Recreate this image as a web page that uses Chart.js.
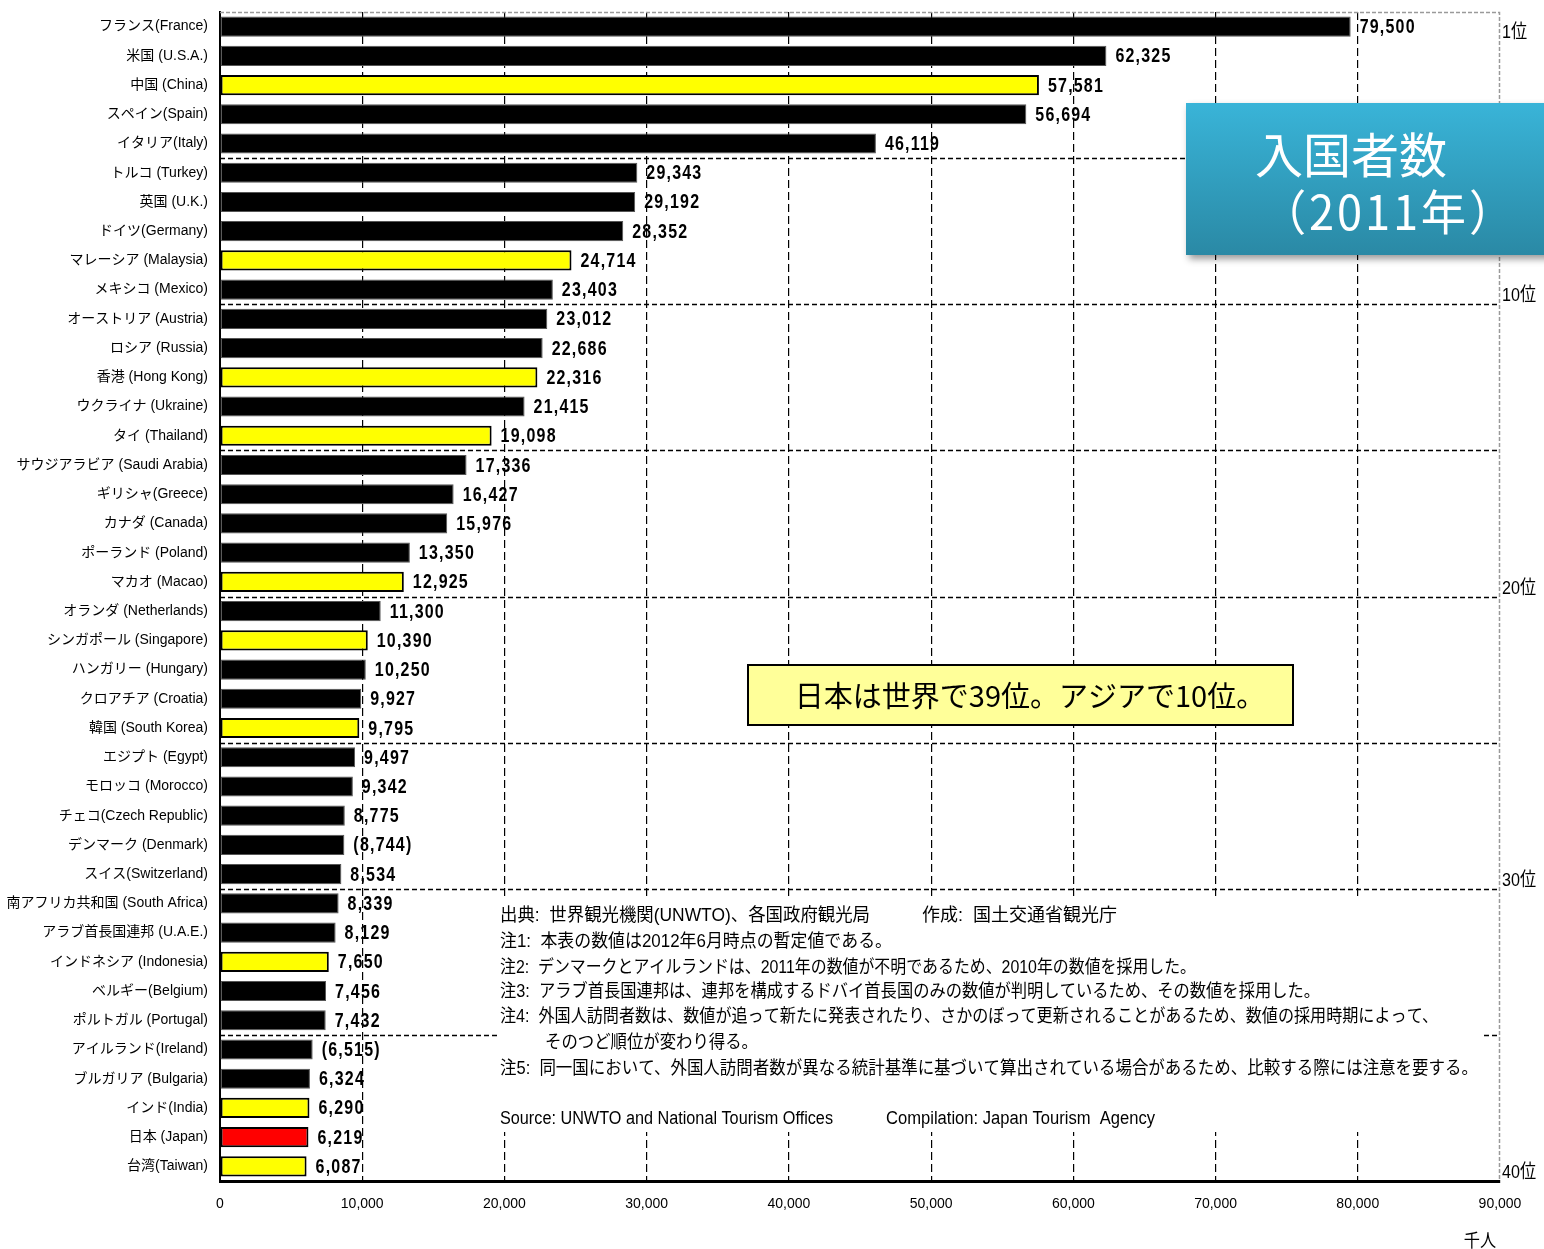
<!DOCTYPE html>
<html lang="ja">
<head>
<meta charset="utf-8">
<script src="https://cdn.jsdelivr.net/npm/chart.js@4.4.1/dist/chart.umd.min.js"></script>
<style>
  html, body { margin: 0; padding: 0; background: #fff; }
  #wrap { width: 1544px; height: 1249px; }
</style>
</head>
<body>
<div id="wrap"><canvas id="chart" width="1544" height="1249"></canvas></div>
<script>
// 国・地域（2011年 入国者数 上位40）
const countries = [
  'フランス(France)', '米国 (U.S.A.)', '中国 (China)', 'スペイン(Spain)', 'イタリア(Italy)',
  'トルコ (Turkey)', '英国 (U.K.)', 'ドイツ(Germany)', 'マレーシア (Malaysia)', 'メキシコ (Mexico)',
  'オーストリア (Austria)', 'ロシア (Russia)', '香港 (Hong Kong)', 'ウクライナ (Ukraine)', 'タイ (Thailand)',
  'サウジアラビア (Saudi Arabia)', 'ギリシャ(Greece)', 'カナダ (Canada)', 'ポーランド (Poland)', 'マカオ (Macao)',
  'オランダ (Netherlands)', 'シンガポール (Singapore)', 'ハンガリー (Hungary)', 'クロアチア (Croatia)', '韓国 (South Korea)',
  'エジプト (Egypt)', 'モロッコ (Morocco)', 'チェコ(Czech Republic)', 'デンマーク (Denmark)', 'スイス(Switzerland)',
  '南アフリカ共和国 (South Africa)', 'アラブ首長国連邦 (U.A.E.)', 'インドネシア (Indonesia)', 'ベルギー(Belgium)', 'ポルトガル (Portugal)',
  'アイルランド(Ireland)', 'ブルガリア (Bulgaria)', 'インド(India)', '日本 (Japan)', '台湾(Taiwan)'
];

// 千人
const arrivals = [
  79500, 62325, 57581, 56694, 46119,
  29343, 29192, 28352, 24714, 23403,
  23012, 22686, 22316, 21415, 19098,
  17336, 16427, 15976, 13350, 12925,
  11300, 10390, 10250, 9927, 9795,
  9497, 9342, 8775, 8744, 8534,
  8339, 8129, 7650, 7456, 7432,
  6515, 6324, 6290, 6219, 6087
];

// アジアの国・地域（黄色）、日本（赤）
const asia = ['中国 (China)', 'マレーシア (Malaysia)', '香港 (Hong Kong)', 'タイ (Thailand)', 'マカオ (Macao)',
  'シンガポール (Singapore)', '韓国 (South Korea)', 'インドネシア (Indonesia)', 'インド(India)', '台湾(Taiwan)'];
const japan = '日本 (Japan)';
// 2010年の数値を採用（括弧付き表示）
const prevYear = ['デンマーク (Denmark)', 'アイルランド(Ireland)'];

const xTicks = [0, 10000, 20000, 30000, 40000, 50000, 60000, 70000, 80000, 90000];
const rankMarks = [1, 10, 20, 30, 40];
const groupSize = 5;

const SANS = '"Liberation Sans", "Noto Sans CJK JP", sans-serif';
const JP = '"Noto Sans CJK JP", sans-serif';

const fillColors = countries.map(c => c === japan ? '#ff0000' : asia.includes(c) ? '#ffff00' : '#000000');
const borderWidths = countries.map(c => (c === japan || asia.includes(c)) ? 2 : 1);
const borderColors = countries.map(c => (c === japan || asia.includes(c)) ? '#000' : '#555');

const fmt = v => v.toLocaleString('en-US');

// 縦長の細い文字（Arial Narrow 風）
function narrowText(ctx, text, x, y, sx) {
  ctx.save();
  ctx.translate(x, y);
  ctx.scale(sx, 1);
  ctx.fillText(text, 0, 0);
  ctx.restore();
}

const decor = {
  id: 'decor',
  beforeDatasetsDraw(chart) {
    const { ctx, chartArea: a, scales: { y } } = chart;
    ctx.save();
    // 上と右の枠（灰色点線）
    ctx.strokeStyle = '#9a9a9a';
    ctx.lineWidth = 1.5;
    ctx.setLineDash([4, 2]);
    ctx.beginPath();
    ctx.moveTo(a.left, a.top + 0.5);
    ctx.lineTo(a.right - 0.5, a.top + 0.5);
    ctx.lineTo(a.right - 0.5, a.bottom);
    ctx.stroke();
    // 5位ごとの区切り
    ctx.strokeStyle = '#000';
    ctx.lineWidth = 1.3;
    ctx.setLineDash([5, 3]);
    for (let i = groupSize; i < countries.length; i += groupSize) {
      const py = Math.round((y.getPixelForValue(i - 1) + y.getPixelForValue(i)) / 2) + 0.5;
      ctx.beginPath();
      ctx.moveTo(a.left, py);
      ctx.lineTo(a.right, py);
      ctx.stroke();
    }
    ctx.restore();
  },
  afterDatasetsDraw(chart) {
    const { ctx } = chart;
    const meta = chart.getDatasetMeta(0);
    ctx.save();
    ctx.font = 'bold 20px "Liberation Sans", sans-serif';
    ctx.fillStyle = '#000';
    ctx.textBaseline = 'middle';
    ctx.textAlign = 'left';
    try { ctx.letterSpacing = '1.5px'; } catch (e) {}
    meta.data.forEach((bar, i) => {
      let t = fmt(arrivals[i]);
      if (prevYear.includes(countries[i])) t = '(' + t + ')';
      narrowText(ctx, t, bar.x + 9, bar.y + 1, 0.8);
    });
    ctx.restore();
  },
  afterDraw(chart) {
    const { ctx, chartArea: a, scales: { y } } = chart;
    const step = y.getPixelForValue(1) - y.getPixelForValue(0);
    ctx.save();

    // 順位
    ctx.fillStyle = '#000';
    ctx.font = '19px ' + SANS;
    ctx.textAlign = 'left';
    ctx.textBaseline = 'middle';
    rankMarks.forEach(r => {
      const bottom = y.getPixelForValue(r - 1) + step / 2;
      narrowText(ctx, r + '位', a.right + 2, bottom - 8, 0.85);
    });

    // 単位
    ctx.font = '18px ' + JP;
    ctx.textAlign = 'center';
    narrowText(ctx, '千人', 1480, 1240, 0.9);

    // 注記
    ctx.fillStyle = '#fff';
    ctx.fillRect(497, 898, 985, 234);
    ctx.fillStyle = '#000';
    ctx.textAlign = 'left';
    ctx.textBaseline = 'middle';
    ctx.font = '18px ' + SANS;
    const notes = [
      ['出典:  世界観光機関(UNWTO)、各国政府観光局', 500, 916, 370],
      ['作成:  国土交通省観光庁', 922, 916, 196],
      ['注1:  本表の数値は2012年6月時点の暫定値である。', 500, 942, 392],
      ['注2:  デンマークとアイルランドは、2011年の数値が不明であるため、2010年の数値を採用した。', 500, 968, 696],
      ['注3:  アラブ首長国連邦は、連邦を構成するドバイ首長国のみの数値が判明しているため、その数値を採用した。', 500, 992, 820],
      ['注4:  外国人訪問者数は、数値が追って新たに発表されたり、さかのぼって更新されることがあるため、数値の採用時期によって、', 500, 1017, 938],
      ['そのつど順位が変わり得る。', 545, 1043, 213],
      ['注5:  同一国において、外国人訪問者数が異なる統計基準に基づいて算出されている場合があるため、比較する際には注意を要する。', 500, 1069, 978],
      ['Source: UNWTO and National Tourism Offices', 500, 1119, 333],
      ['Compilation: Japan Tourism  Agency', 886, 1119, 269]
    ];
    notes.forEach(([t, x, yy, w]) => ctx.fillText(t, x, yy, w));

    // 黄色の囲み
    ctx.fillStyle = '#ffff99';
    ctx.fillRect(748, 665, 545, 60);
    ctx.strokeStyle = '#000';
    ctx.lineWidth = 2;
    ctx.strokeRect(748, 665, 545, 60);
    ctx.fillStyle = '#000';
    ctx.font = '29px ' + JP;
    ctx.textAlign = 'center';
    ctx.fillText('日本は世界で39位。アジアで10位。', 1030, 696, 482);

    // タイトル（青い囲み）
    ctx.save();
    ctx.shadowColor = 'rgba(0,0,0,0.4)';
    ctx.shadowBlur = 7;
    ctx.shadowOffsetX = 3;
    ctx.shadowOffsetY = 4;
    const g = ctx.createLinearGradient(0, 103, 0, 255);
    g.addColorStop(0, '#39b4d8');
    g.addColorStop(1, '#2a89a5');
    ctx.fillStyle = g;
    ctx.fillRect(1186, 103, 370, 152);
    ctx.restore();
    ctx.fillStyle = '#fff';
    ctx.font = '48px ' + JP;
    ctx.textAlign = 'center';
    ctx.fillText('入国者数', 1351, 155);
    try { ctx.letterSpacing = '3px'; } catch (e) {}
    ctx.fillText('（2011年）', 1389, 212, 256);

    ctx.restore();
  }
};

new Chart(document.getElementById('chart'), {
  type: 'bar',
  data: {
    labels: countries,
    datasets: [{
      data: arrivals,
      backgroundColor: fillColors,
      borderColor: borderColors,
      borderWidth: borderWidths,
      borderSkipped: false,
      categoryPercentage: 1,
      barPercentage: 0.69
    }]
  },
  options: {
    indexAxis: 'y',
    responsive: false,
    animation: false,
    layout: { padding: { top: 12, right: 44, left: 0, bottom: 0 } },
    plugins: { legend: { display: false }, tooltip: { enabled: false } },
    scales: {
      x: {
        min: 0,
        max: 90000,
        afterBuildTicks: s => { s.ticks = xTicks.map(v => ({ value: v })); },
        afterFit: s => { s.height = 68; s.paddingLeft = 0; s.paddingRight = 0; },
        ticks: {
          padding: 15,
          color: '#000',
          font: { family: SANS, size: 14 },
          callback: v => fmt(v)
        },
        grid: {
          drawTicks: false,
          color: c => (c.tick && c.tick.value > 0 && c.tick.value < 90000) ? '#000' : 'rgba(0,0,0,0)',
          lineWidth: 1.2
        },
        border: { display: true, color: '#000', width: 3, dash: [8, 4] }
      },
      y: {
        afterFit: s => { s.width = 220; s.paddingTop = 0; s.paddingBottom = 0; },
        ticks: {
          padding: 12,
          color: '#000',
          autoSkip: false,
          font: { family: SANS, size: 14 }
        },
        grid: { display: false, drawTicks: false },
        border: { display: true, color: '#000', width: 2 }
      }
    }
  },
  plugins: [decor]
});
</script>
</body>
</html>
